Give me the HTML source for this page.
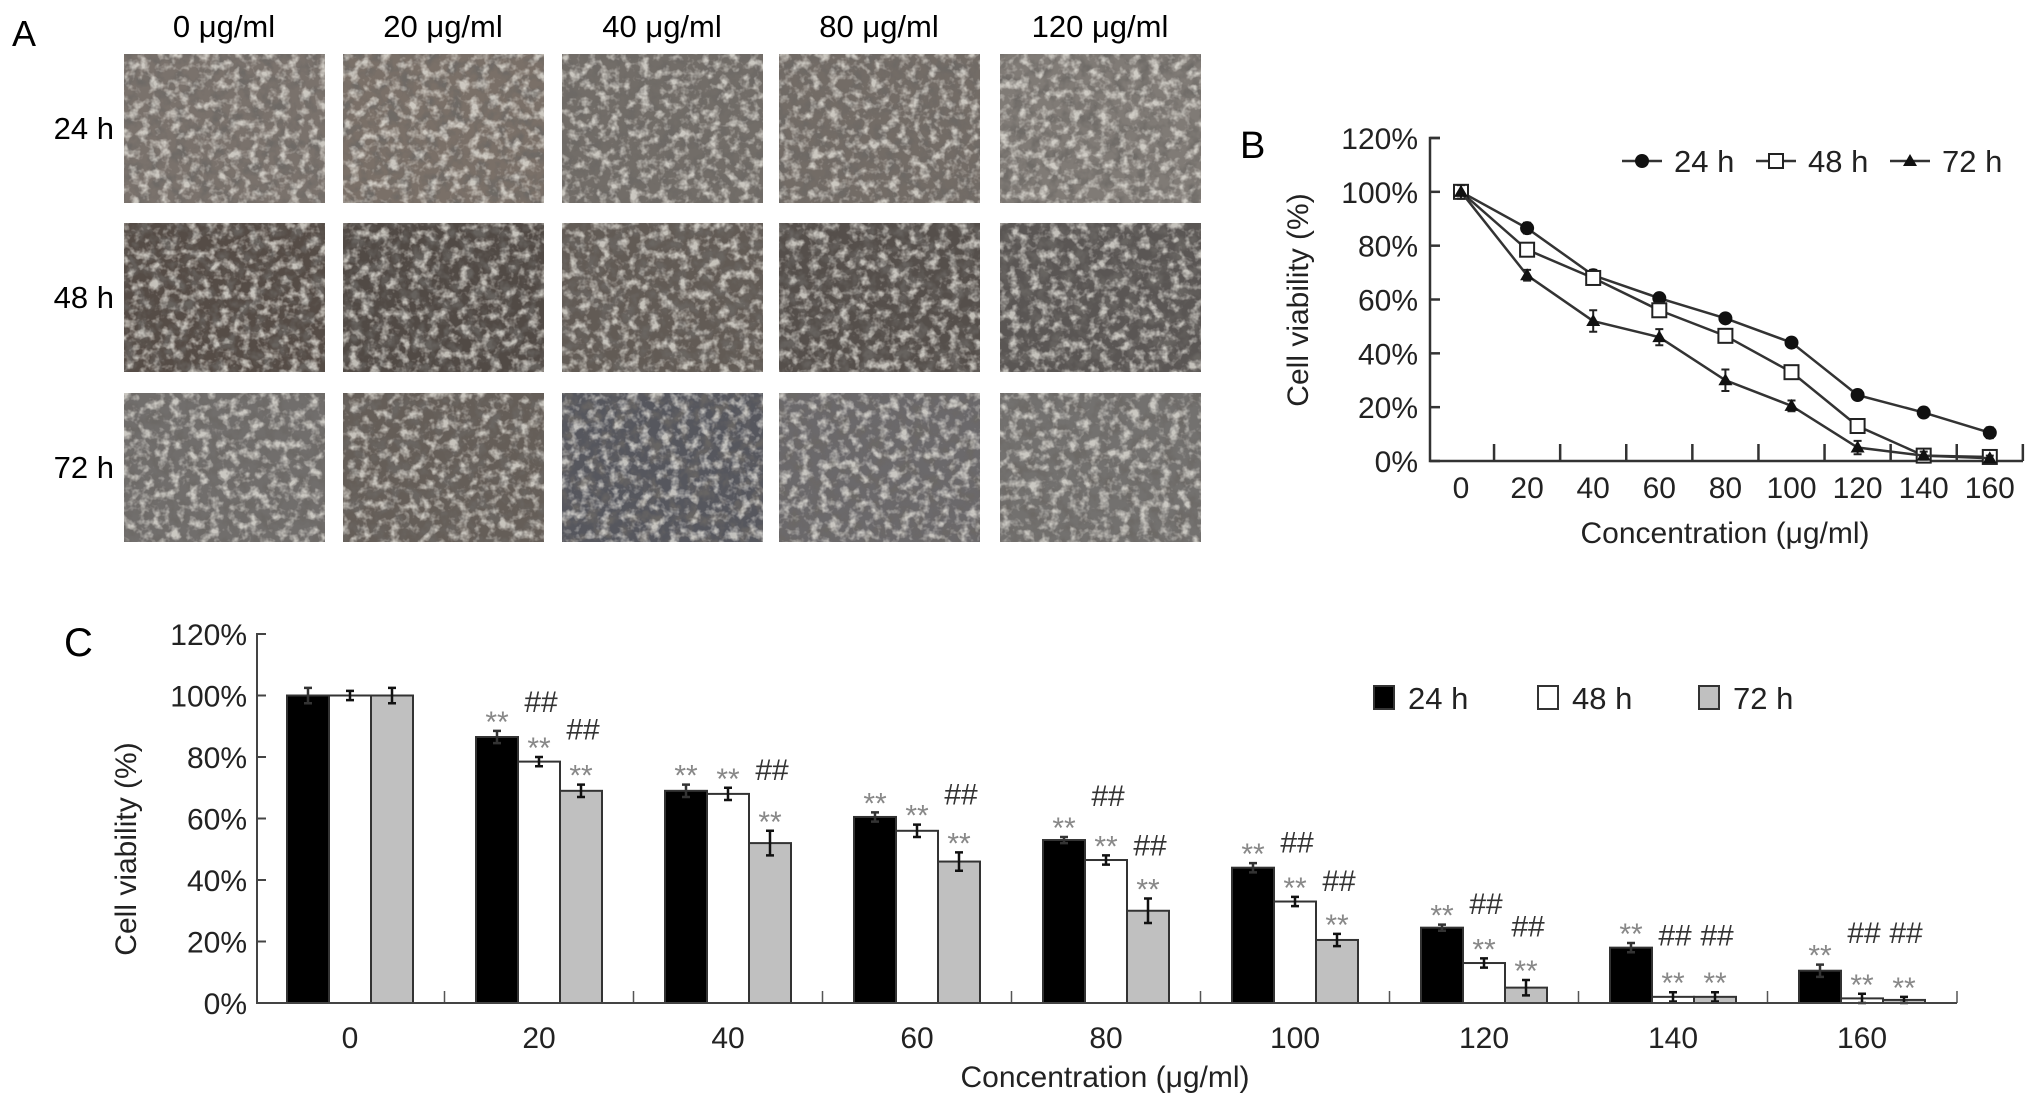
<!DOCTYPE html>
<html><head><meta charset="utf-8">
<style>
html,body{margin:0;padding:0;background:#fff;}
svg{display:block;font-family:"Liberation Sans",sans-serif;}
</style></head>
<body>
<svg id="fig" width="2032" height="1108" viewBox="0 0 2032 1108" xmlns="http://www.w3.org/2000/svg">
<defs>
<filter id="texD" x="0" y="0" width="100%" height="100%">
<feTurbulence type="fractalNoise" baseFrequency="0.08" numOctaves="3" seed="3"/>
<feColorMatrix type="matrix" values="0 0 0 0 0.15  0 0 0 0 0.14  0 0 0 0 0.13  0 0 0 3.2 -1.4"/>
</filter>
<filter id="texL" x="0" y="0" width="100%" height="100%">
<feTurbulence type="fractalNoise" baseFrequency="0.1" numOctaves="3" seed="11"/>
<feColorMatrix type="matrix" values="0 0 0 0 0.88  0 0 0 0 0.86  0 0 0 0 0.80  0 0 0 3.2 -1.5"/>
</filter>
</defs>
<g id="panelA"></g>
<g id="panelB"></g>
<g id="panelC"></g>
</svg>
<script>
// ---- data ----
const concentrations = [0, 20, 40, 60, 80, 100, 120, 140, 160];
const series24 = [100, 86.5, 69, 60.5, 53, 44, 24.5, 18, 10.5];
const series48 = [100, 78.5, 68, 56, 46.5, 33, 13, 2, 1.5];
const series72 = [100, 69, 52, 46, 30, 20.5, 5, 2, 1];
const err24 = [2.5, 2, 2, 1.5, 1, 1.5, 1, 1.5, 2];
const err48 = [1.5, 1.5, 2, 2, 1.5, 1.5, 1.5, 1.5, 1.5];
const err72 = [2.5, 2, 4, 3, 4, 2, 2.5, 1.5, 1];
const star24 = [0, 1, 1, 1, 1, 1, 1, 1, 1];
const star48 = [0, 1, 1, 1, 1, 1, 1, 1, 1];
const star72 = [0, 1, 1, 1, 1, 1, 1, 1, 1];
const hash48 = [null, 94.6, null, null, 64, 49, 29, 18.7, 19.5];
const hash72 = [null, 85.7, 72.5, 64.5, 48, 36.5, 21.6, 18.7, 19.5];
const yTicks = [0, 20, 40, 60, 80, 100, 120];
const seriesNames = ["24 h", "48 h", "72 h"];
const panelAcols = ["0 μg/ml", "20 μg/ml", "40 μg/ml", "80 μg/ml", "120 μg/ml"];
const panelArows = ["24 h", "48 h", "72 h"];

const NS = "http://www.w3.org/2000/svg";
function mk(parent, tag, attrs, text) {
  const e = document.createElementNS(NS, tag);
  for (const k in attrs) e.setAttribute(k, attrs[k]);
  if (text !== undefined) e.textContent = text;
  parent.appendChild(e);
  return e;
}
const FONT = '"Liberation Sans Narrow","Liberation Sans",sans-serif';

// ---- Panel A ----
const A = document.getElementById('panelA');
let t = mk(A, 'text', {x: 12, y: 46, 'font-size': 36, 'font-family': FONT}, 'A');


const colX = [124, 343, 562, 779, 1000];
const rowY = [54, 223, 393];
const tones = [
  ['#7a726c','#7a7068','#726d68','#736c66','#807b76'],
  ['#554c46','#514a45','#625b55','#554f4b','#5a5654'],
  ['#716e6c','#655e58','#56575e','#6b696b','#73716f']
];
panelAcols.forEach((c, i) => {
  const tt = mk(A, 'text', {x: colX[i] + 100, y: 37, 'font-size': 31, 'text-anchor': 'middle', 'font-family': FONT}, c);
  
  
});
panelArows.forEach((r, j) => {
  const tt = mk(A, 'text', {x: 114, y: rowY[j] + 85, 'font-size': 31, 'text-anchor': 'end', 'font-family': FONT}, r);
  
  
  colX.forEach((x, i) => {
    const g = mk(A, 'g', {});
    
    
    mk(g, 'rect', {x: x, y: rowY[j], width: 201, height: 149, fill: tones[j][i]});
    mk(g, 'rect', {x: x, y: rowY[j], width: 201, height: 149, filter: 'url(#texD)', opacity: 0.8});
    mk(g, 'rect', {x: x, y: rowY[j], width: 201, height: 149, filter: 'url(#texL)', opacity: 0.7});
  });
});

// ---- Panel B ----
const B = document.getElementById('panelB');
const bX0 = 1461, bDx = 66.1, bAxisX = 1430, bY0 = 461, bY120 = 138;
const bx = v => bX0 + (v / 20) * bDx;
const by = p => bY0 - p / 120 * (bY0 - bY120);
t = mk(B, 'text', {x: 1240, y: 158, 'font-size': 38, 'font-family': FONT}, 'B');


let ax = mk(B, 'path', {d: `M${bAxisX + 10} ${bY120}H${bAxisX}V${bY0}H2023`, stroke: '#333', 'stroke-width': 2.5, fill: 'none'});


yTicks.forEach(v => {
  mk(B, 'line', {x1: bAxisX, x2: bAxisX + 10, y1: by(v), y2: by(v), stroke: '#333', 'stroke-width': 2.5});
  const tt = mk(B, 'text', {x: bAxisX - 12, y: by(v) + 11, 'font-size': 30, 'text-anchor': 'end', fill: '#222', 'font-family': FONT}, v + '%');
  
  
});
concentrations.forEach((c, i) => {
  if (i > 0) mk(B, 'line', {x1: bx(c) - bDx / 2, x2: bx(c) - bDx / 2, y1: bY0, y2: bY0 - 17, stroke: '#333', 'stroke-width': 2.5});
  const tt = mk(B, 'text', {x: bx(c), y: bY0 + 37, 'font-size': 30, 'text-anchor': 'middle', fill: '#222', 'font-family': FONT}, String(c));
  
  
});
mk(B, 'line', {x1: bx(160) + bDx / 2, x2: bx(160) + bDx / 2, y1: bY0, y2: bY0 - 17, stroke: '#333', 'stroke-width': 2.5});
t = mk(B, 'text', {x: 1725, y: 543, 'font-size': 30, 'text-anchor': 'middle', fill: '#222', 'font-family': FONT}, 'Concentration (μg/ml)');


t = mk(B, 'text', {x: 0, y: 0, 'font-size': 30, 'text-anchor': 'middle', fill: '#222', transform: 'translate(1308,300) rotate(-90)', 'font-family': FONT}, 'Cell viability (%)');



function marker(g, type, x, y) {
  if (type === 0) mk(g, 'circle', {cx: x, cy: y, r: 7, fill: '#111'});
  else if (type === 1) mk(g, 'rect', {x: x - 7, y: y - 7, width: 14, height: 14, fill: '#fff', stroke: '#222', 'stroke-width': 2});
  else mk(g, 'path', {d: `M${x} ${y - 7}L${x + 7} ${y + 5}L${x - 7} ${y + 5}Z`, fill: '#111'});
}
const allSeries = [series24, series48, series72];
const allErr = [err24, err48, err72];
allSeries.forEach((s, k) => {
  const g = mk(B, 'g', {});
  
  
  mk(g, 'polyline', {points: s.map((v, i) => bx(concentrations[i]) + ',' + by(v)).join(' '), fill: 'none', stroke: '#333', 'stroke-width': 2.5});
  s.forEach((v, i) => {
    const x = bx(concentrations[i]), e = allErr[k][i];
    mk(g, 'path', {d: `M${x} ${by(v + e)}V${by(v - e)}M${x - 4} ${by(v + e)}H${x + 4}M${x - 4} ${by(v - e)}H${x + 4}`, stroke: '#222', 'stroke-width': 2});
    marker(g, k, x, by(v));
  });
});
const legBx = [1622, 1756, 1890];
seriesNames.forEach((n, k) => {
  const g = mk(B, 'g', {});
  
  
  mk(g, 'line', {x1: legBx[k], x2: legBx[k] + 40, y1: 161, y2: 161, stroke: '#333', 'stroke-width': 2.5});
  marker(g, k, legBx[k] + 20, 161);
  mk(g, 'text', {x: legBx[k] + 52, y: 172, 'font-size': 31, fill: '#222', 'font-family': FONT}, n);
});

// ---- Panel C ----
const C = document.getElementById('panelC');
const cAxisX = 257, cY0 = 1003, cY120 = 634, cG0 = 287, cGap = 189, cBw = 42, cAxisEnd = 1957;
const cy = p => cY0 - p / 120 * (cY0 - cY120);
const cx = (i, k) => cG0 + i * cGap + k * cBw;
t = mk(C, 'text', {x: 64, y: 656, 'font-size': 40, 'font-family': FONT}, 'C');


yTicks.forEach(v => {
  mk(C, 'line', {x1: cAxisX, x2: cAxisX + 9, y1: cy(v), y2: cy(v), stroke: '#444', 'stroke-width': 2});
  const tt = mk(C, 'text', {x: cAxisX - 10, y: cy(v) + 11, 'font-size': 30, 'text-anchor': 'end', fill: '#222', 'font-family': FONT}, v + '%');
  
  
});
const fills = ['#000', '#fff', '#c0c0c0'];
concentrations.forEach((c, i) => {
  const g = mk(C, 'g', {});
  
  
  allSeries.forEach((s, k) => {
    const x = cx(i, k), v = s[i], e = allErr[k][i];
    const r = mk(g, 'rect', {x: x, y: cy(v), width: cBw, height: cY0 - cy(v), fill: fills[k], stroke: '#333', 'stroke-width': 2});
    
    
    const m = x + cBw / 2;
    mk(g, 'path', {d: `M${m} ${cy(v + e)}V${cy(v - e)}M${m - 4} ${cy(v + e)}H${m + 4}M${m - 4} ${cy(v - e)}H${m + 4}`, stroke: k === 0 ? '#333' : '#111', 'stroke-width': 2.5});
  });
  const stars = [star24, star48, star72];
  stars.forEach((st, k) => {
    if (!st[i]) return;
    const top = cy(allSeries[k][i] + allErr[k][i]);
    mk(g, 'text', {x: cx(i, k) + cBw / 2, y: top + 1, 'font-size': 30, 'text-anchor': 'middle', fill: '#888', 'font-family': FONT}, '**');
  });
  [hash48, hash72].forEach((h, j) => {
    if (h[i] === null) return;
    mk(g, 'text', {x: cx(i, j + 1) + cBw / 2 + 2, y: cy(h[i]), 'font-size': 30, 'text-anchor': 'middle', fill: '#333', 'font-family': FONT}, '##');
  });
  if (i > 0) mk(C, 'line', {x1: cx(i, 0) - (cGap - 3 * cBw) / 2, x2: cx(i, 0) - (cGap - 3 * cBw) / 2, y1: cY0, y2: cY0 - 12, stroke: '#555', 'stroke-width': 1.5});
  const tt = mk(C, 'text', {x: cx(i, 1) + cBw / 2, y: cY0 + 45, 'font-size': 30, 'text-anchor': 'middle', fill: '#222', 'font-family': FONT}, String(c));
  
  
});
mk(C, 'line', {x1: cAxisEnd, x2: cAxisEnd, y1: cY0, y2: cY0 - 12, stroke: '#555', 'stroke-width': 1.5});
ax = mk(C, 'path', {d: `M${cAxisX + 9} ${cY120}H${cAxisX}V${cY0}H${cAxisEnd}`, stroke: '#444', 'stroke-width': 2, fill: 'none'});


t = mk(C, 'text', {x: 1105, y: 1087, 'font-size': 30, 'text-anchor': 'middle', fill: '#222', 'font-family': FONT}, 'Concentration (μg/ml)');


t = mk(C, 'text', {x: 0, y: 0, 'font-size': 30, 'text-anchor': 'middle', fill: '#222', transform: 'translate(136,849) rotate(-90)', 'font-family': FONT}, 'Cell viability (%)');


const legCx = [1374, 1538, 1699];
seriesNames.forEach((n, k) => {
  const g = mk(C, 'g', {});
  
  
  mk(g, 'rect', {x: legCx[k], y: 686, width: 20, height: 23, fill: fills[k], stroke: '#333', 'stroke-width': 2});
  mk(g, 'text', {x: legCx[k] + 34, y: 709, 'font-size': 31, fill: '#222', 'font-family': FONT}, n);
});
</script>
</body></html>
